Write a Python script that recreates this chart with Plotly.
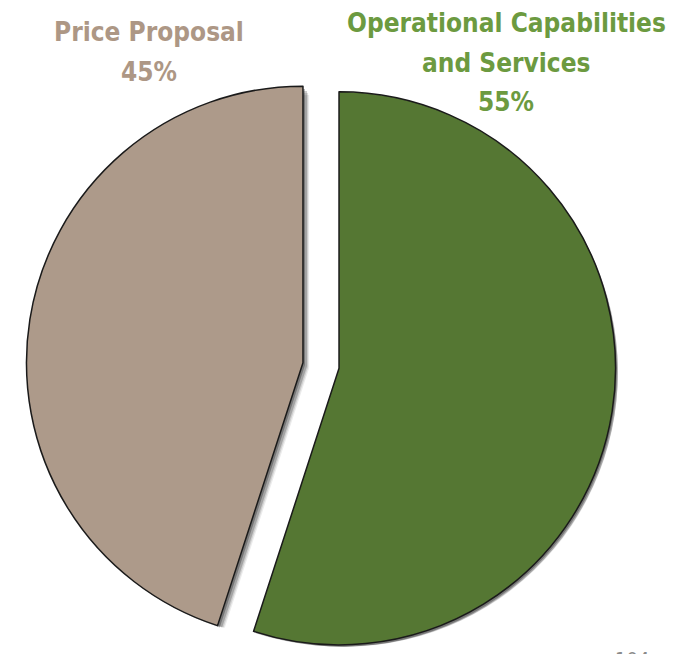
import plotly.graph_objects as go

labels = ["Operational Capabilities and Services", "Price Proposal"]
values = [55, 45]
colors = ["#557733", "#AD9A8A"]
text_colors = ["#6C9A40", "#AD9785"]
pulls = [0.066, 0.066]
label_lines = [["Operational Capabilities", "and Services", "55%"], ["Price Proposal", "45%"]]

W, H = 681, 654
OFF = 8  # page body margin offset
cx, cy = 321 - OFF, 365.5 - OFF   # pie centre in figure pixels
r = 276.5
half = r * (1 + max(pulls))

def dom(dx=0, dy=0):
    x0 = (cx + dx - half) / W
    x1 = (cx + dx + half) / W
    y0 = (H - (cy + dy) - half) / H
    y1 = (H - (cy + dy) + half) / H
    return dict(x=[max(0, x0), min(1, x1)], y=[max(0, y0), min(1, y1)])

fig = go.Figure()

# soft drop shadow layers
for dx, dy, a in [(6, 9, 0.08), (5, 7, 0.12), (4, 5, 0.2), (2, 3, 0.28)]:
    fig.add_trace(go.Pie(
        labels=labels, values=values, sort=False, direction="clockwise",
        rotation=0, pull=pulls, textinfo="none", hoverinfo="skip",
        marker=dict(colors=[f"rgba(0,0,0,{a})"] * 2, line=dict(width=0)),
        domain=dom(dx, dy), showlegend=False,
    ))

fig.add_trace(go.Pie(
    labels=labels, values=values, sort=False, direction="clockwise",
    rotation=0, pull=pulls, textinfo="none",
    marker=dict(colors=colors, line=dict(color="#1a1a1a", width=1.5)),
    domain=dom(), showlegend=False,
))

font_family = "DejaVu Sans Condensed, Liberation Sans Narrow, sans-serif"

def add_line(text, x, y, color, size=26):
    fig.add_annotation(
        x=(x - OFF) / W, y=1 - (y - OFF) / H, xref="paper", yref="paper",
        text=f"<b>{text}</b>", showarrow=False,
        font=dict(family=font_family, size=size, color=color),
        xanchor="center", yanchor="middle",
    )

for txt, y in zip(label_lines[1], [32, 72]):
    add_line(txt, 149, y, text_colors[1])
for txt, y in zip(label_lines[0], [23, 63, 102]):
    add_line(txt, 506, y, text_colors[0])

fig.add_annotation(
    x=(632 - OFF) / W, y=1 - (645 - OFF) / H, xref="paper", yref="paper",
    text="104", showarrow=False,
    font=dict(family=font_family, size=20, color="#8a8a8a"),
    xanchor="center", yanchor="top",
)

fig.update_layout(
    width=W, height=H, margin=dict(l=0, r=0, t=0, b=0),
    paper_bgcolor="white", plot_bgcolor="white",
)
fig.write_html("out.html")
